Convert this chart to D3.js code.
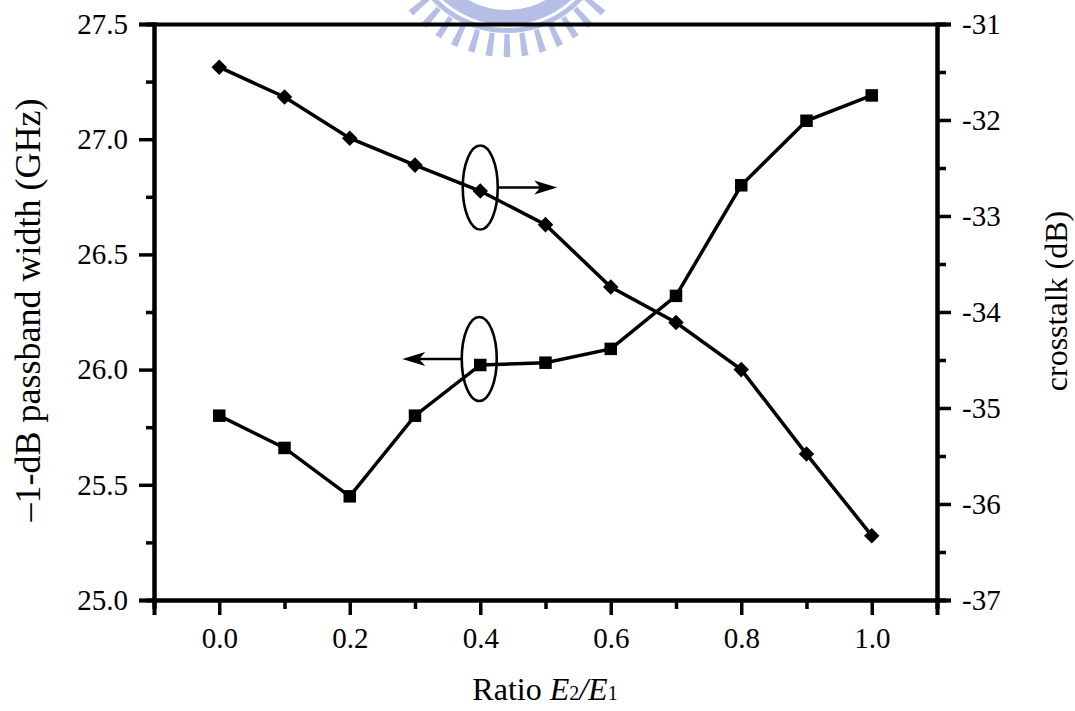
<!DOCTYPE html>
<html>
<head>
<meta charset="utf-8">
<script src="https://cdn.jsdelivr.net/npm/d3@7"></script>
<style>
  html, body { margin: 0; padding: 0; background: #fff; }
  svg { display: block; }
  text { font-family: "Liberation Serif", "Times New Roman", serif; fill: #000; }
</style>
</head>
<body>
<svg id="chart" width="1075" height="711"></svg>
<script>
// Ratio E2/E1
const ratio = [0.0, 0.1, 0.2, 0.3, 0.4, 0.5, 0.6, 0.7, 0.8, 0.9, 1.0];
// -1 dB passband width (GHz), left axis
const passband = [25.80, 25.66, 25.45, 25.80, 26.02, 26.03, 26.09, 26.32, 26.80, 27.08, 27.19];
// crosstalk (dB), right axis
const crosstalk = [-31.45, -31.76, -32.19, -32.47, -32.74, -33.09, -33.74, -34.11, -34.60, -35.48, -36.33];

const xMajor = [0.0, 0.2, 0.4, 0.6, 0.8, 1.0];
const xMinor = [-0.1, 0.1, 0.3, 0.5, 0.7, 0.9, 1.1];
const yLMajor = [25.0, 25.5, 26.0, 26.5, 27.0, 27.5];
const yLMinor = [25.25, 25.75, 26.25, 26.75, 27.25];
const yRMajor = [-37, -36, -35, -34, -33, -32, -31];
const yRMinor = [-36.5, -35.5, -34.5, -33.5, -32.5, -31.5];

const W = 1075, H = 711;
const margin = { left: 154, top: 24, right: 138, bottom: 111 };
const x0 = margin.left, x1 = W - margin.right;
const y0 = H - margin.bottom, y1 = margin.top;

const svg = d3.select("#chart");

const x = d3.scaleLinear().domain([-0.1, 1.1]).range([x0, x1]);
const yL = d3.scaleLinear().domain([25.0, 27.5]).range([y0, y1]);
const yR = d3.scaleLinear().domain([-37, -31]).range([y0, y1]);

// faint seal emblem at the top edge
(function seal() {
  const g = svg.append("g").attr("transform", "translate(507,-70)")
    .attr("fill", "#a3b0e0").attr("opacity", 0.8);
  const arc = d3.arc();
  g.append("path").attr("d", arc({ innerRadius: 80, outerRadius: 95, startAngle: Math.PI * 0.62, endAngle: Math.PI * 1.38 }));
  g.append("path").attr("d", arc({ innerRadius: 98, outerRadius: 103, startAngle: Math.PI * 0.62, endAngle: Math.PI * 1.38 }));
  const teeth = d3.range(-6, 7);
  g.selectAll("path.tooth").data(teeth).join("path")
    .attr("class", "tooth")
    .attr("d", "M-2.5,104 L2.5,104 L3.4,127 L-3.4,127 Z")
    .attr("transform", d => `rotate(${d * 8.2})`);
})();

const lineW = 3.5;

// axes: major ticks with labels, minor ticks without
function styleAxis(g) {
  g.selectAll("path.domain").attr("stroke", "#000").attr("stroke-width", 4);
  g.selectAll(".tick line").attr("stroke", "#000").attr("stroke-width", 3.5);
  g.selectAll(".tick text").attr("font-size", 29);
}

// bottom
svg.append("g").attr("transform", `translate(0,${y0})`)
  .call(d3.axisBottom(x).tickValues(xMinor).tickSize(9).tickFormat(""))
  .call(styleAxis);
svg.append("g").attr("transform", `translate(0,${y0})`)
  .call(d3.axisBottom(x).tickValues(xMajor).tickSize(15).tickPadding(12).tickFormat(d3.format(".1f")))
  .call(styleAxis);

// top
svg.append("g").attr("transform", `translate(0,${y1})`)
  .call(d3.axisBottom(x).tickValues(xMajor.concat(xMinor)).tickSize(2).tickSizeOuter(0).tickFormat(""))
  .call(styleAxis);

// left
svg.append("g").attr("transform", `translate(${x0},0)`)
  .call(d3.axisLeft(yL).tickValues(yLMinor).tickSize(8).tickFormat(""))
  .call(styleAxis);
svg.append("g").attr("transform", `translate(${x0},0)`)
  .call(d3.axisLeft(yL).tickValues(yLMajor).tickSize(15).tickPadding(11).tickFormat(d3.format(".1f")))
  .call(styleAxis);

// right
svg.append("g").attr("transform", `translate(${x1},0)`)
  .call(d3.axisRight(yR).tickValues(yRMinor).tickSize(9).tickFormat(""))
  .call(styleAxis);
svg.append("g").attr("transform", `translate(${x1},0)`)
  .call(d3.axisRight(yR).tickValues(yRMajor).tickSize(14).tickPadding(11).tickFormat(d => String(d)))
  .call(styleAxis);

// axis titles
svg.append("text")
  .attr("transform", "translate(40,310) rotate(-90)")
  .attr("text-anchor", "middle").attr("font-size", 36)
  .text("\u20131-dB passband width (GHz)");

svg.append("text")
  .attr("transform", "translate(1067,301) rotate(-90)")
  .attr("text-anchor", "middle").attr("font-size", 32)
  .text("crosstalk (dB)");

const xt = svg.append("text")
  .attr("x", 545).attr("y", 700)
  .attr("text-anchor", "middle").attr("font-size", 32);
xt.append("tspan").text("Ratio ");
xt.append("tspan").attr("font-style", "italic").text("E");
xt.append("tspan").attr("font-size", 20).text("2");
xt.append("tspan").attr("font-style", "italic").text("/E");
xt.append("tspan").attr("font-size", 20).text("1");

// series
const pts = ratio.map((r, i) => ({ r, p: passband[i], c: crosstalk[i] }));

svg.append("path").datum(pts)
  .attr("fill", "none").attr("stroke", "#000").attr("stroke-width", lineW)
  .attr("d", d3.line().x(d => x(d.r)).y(d => yL(d.p)));

svg.append("path").datum(pts)
  .attr("fill", "none").attr("stroke", "#000").attr("stroke-width", lineW)
  .attr("d", d3.line().x(d => x(d.r)).y(d => yR(d.c)));

const sq = 12.5;
svg.append("g").selectAll("rect").data(pts).join("rect")
  .attr("x", d => x(d.r) - sq / 2).attr("y", d => yL(d.p) - sq / 2)
  .attr("width", sq).attr("height", sq).attr("fill", "#000");

const dm = 11;
svg.append("g").selectAll("rect").data(pts).join("rect")
  .attr("x", -dm / 2).attr("y", -dm / 2).attr("width", dm).attr("height", dm)
  .attr("fill", "#000")
  .attr("transform", d => `translate(${x(d.r)},${yR(d.c)}) rotate(45)`);

// series markers: ellipse + arrow pointing to the matching axis
function marker(cx, cy, dir) {
  const g = svg.append("g");
  g.append("ellipse").attr("cx", cx).attr("cy", cy).attr("rx", 17.5).attr("ry", 42)
    .attr("fill", "none").attr("stroke", "#000").attr("stroke-width", 2.6);
  const xs = cx + dir * 17.5, xe = cx + dir * 77;
  g.append("line").attr("x1", xs).attr("y1", cy).attr("x2", xe - dir * 10).attr("y2", cy)
    .attr("stroke", "#000").attr("stroke-width", 2.6);
  g.append("path")
    .attr("d", `M${xe},${cy} L${xe - dir * 23},${cy - 7} L${xe - dir * 17},${cy} L${xe - dir * 23},${cy + 7} Z`)
    .attr("fill", "#000");
}
marker(x(0.4), yR(crosstalk[4]) - 3.5, 1);
marker(x(0.4) - 1, yL(passband[4]) - 6, -1);
</script>
</body>
</html>
